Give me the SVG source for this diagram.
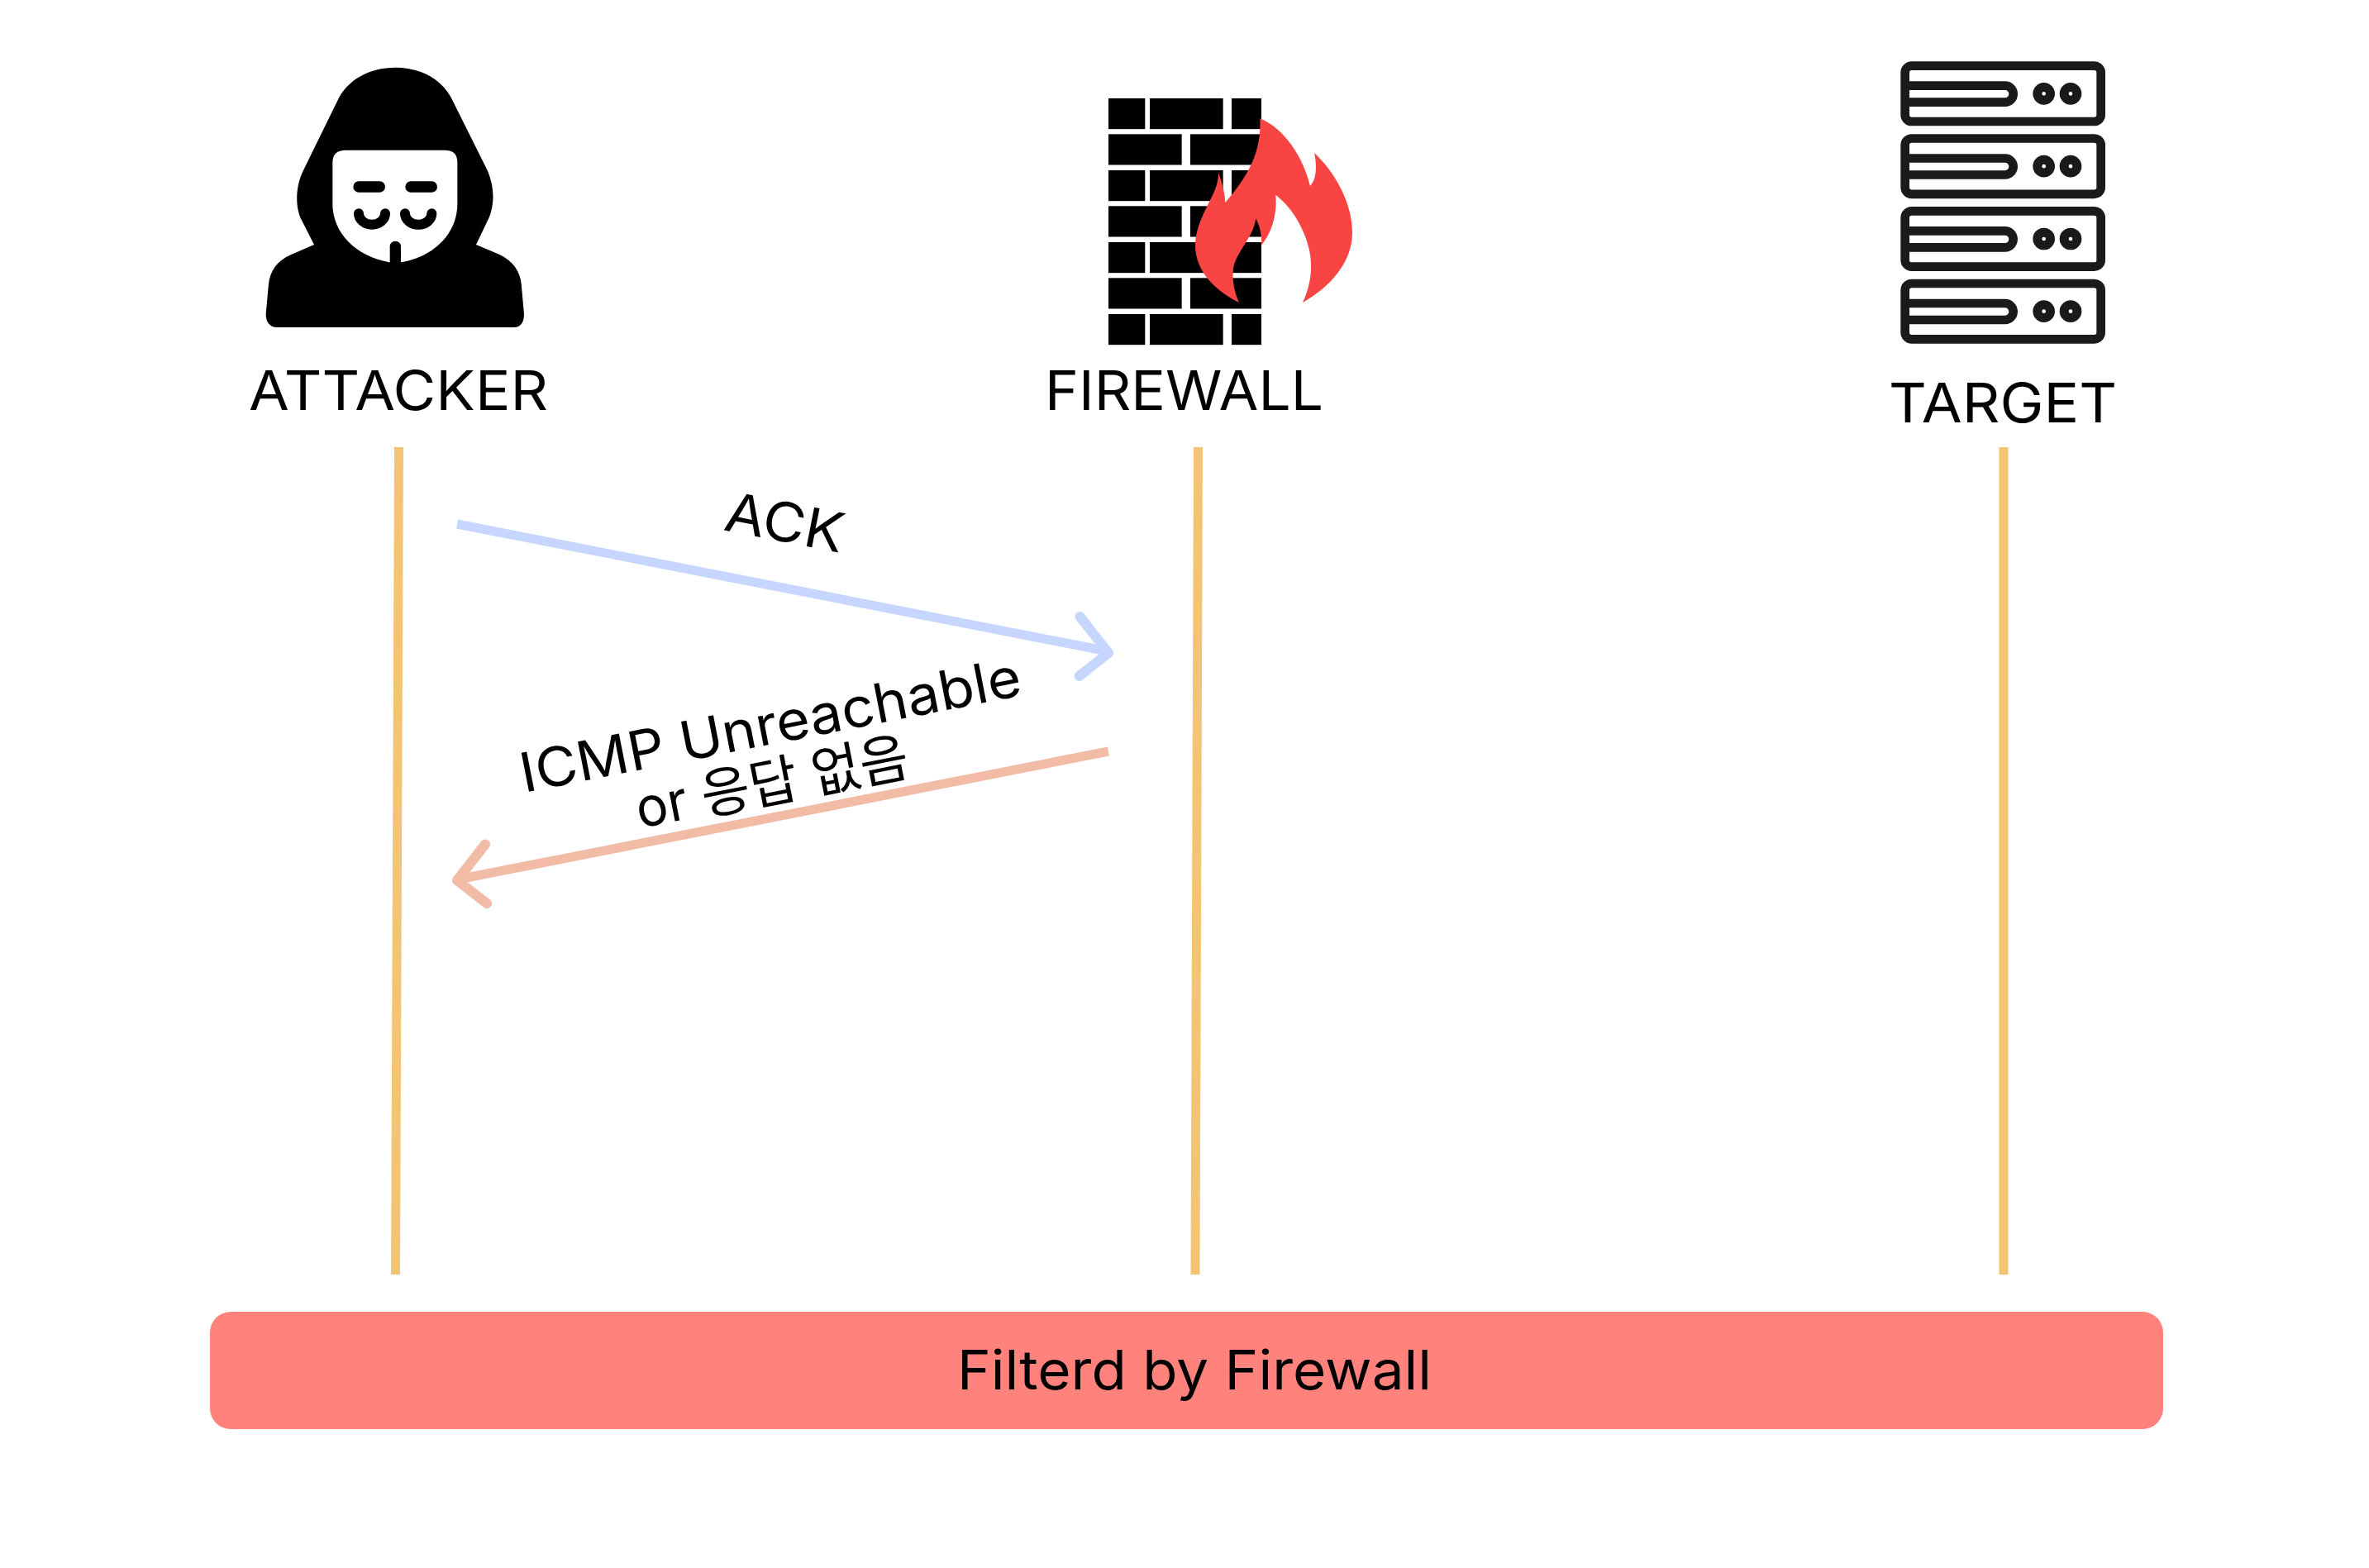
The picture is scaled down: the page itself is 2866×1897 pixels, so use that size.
<svg xmlns="http://www.w3.org/2000/svg" xmlns:xlink="http://www.w3.org/1999/xlink" width="2866" height="1897" viewBox="0 0 2866 1897">
  <style>
    text { font-family: "Inter", "Noto Sans CJK KR", sans-serif; font-size: 66px; font-weight: 400; fill: #000; }
    .life { stroke: #f4c475; stroke-width: 11; fill: none; }
    .ack { stroke: #c7d6fe; stroke-width: 11; fill: none; }
    .ackh { stroke: #c7d6fe; stroke-width: 12; fill: none; stroke-linecap: round; stroke-linejoin: round; }
    .rep { stroke: #f2bba5; stroke-width: 11; fill: none; }
    .reph { stroke: #f2bba5; stroke-width: 12; fill: none; stroke-linecap: round; stroke-linejoin: round; }
    .srv { fill: none; stroke: #1a1a1a; stroke-width: 32; }
    .led { fill: none; stroke: #1a1a1a; stroke-width: 33; }
  </style>
  <defs>
    <g id="unit">
      <rect class="srv" x="134" y="89" width="711" height="202" rx="24"/>
      <path class="srv" d="M134,161 H497 A30,30 0 0 1 497,221 H134"/>
      <circle class="led" cx="638" cy="190" r="23.5"/>
      <circle class="led" cx="735" cy="190" r="23.5"/>
    </g>
    <g id="row-a">
      <rect x="303" width="133" height="111.5"/><rect x="453" width="266" height="111.5"/><rect x="750" width="108" height="111.5"/>
    </g>
    <g id="row-b">
      <rect x="303" width="266" height="111.5"/><rect x="600" width="258" height="111.5"/>
    </g>
  </defs>
  <rect width="2866" height="1897" fill="#fff"/>

  <g id="connectors">
    <path class="life" d="M482.5,541 L478.5,1542"/>
    <path class="life" d="M1449.5,541 L1446,1542"/>
    <path class="life" d="M2424,541 V1542"/>
    <path class="ack" d="M553,634 L1338,787.5"/>
    <path class="ackh" d="M1306.5,746 L1341,790 L1305.5,818"/>
    <path class="rep" d="M1341,909 L556,1063.5"/>
    <path class="reph" d="M587,1021.5 L553,1065 L589,1093"/>
  </g>

  <g id="attacker">
    <g transform="translate(280 50) scale(0.33333)">
      <path d="M595,95 C500,95 420,140 385,215 L260,470 C235,520 230,590 250,640 L300,738 L215,775 C165,797 140,835 135,880 L125,990 C125,1020 140,1038 165,1038 L1025,1038 C1050,1038 1062,1020 1062,990 L1052,880 C1048,835 1020,797 975,775 L888,738 L935,640 C955,590 955,530 930,470 L805,220 C770,140 690,95 595,95 Z" fill="#000"/>
      <path d="M415,395 H775 Q820,395 820,440 V590 C820,700 730,790 595,805 C460,790 367,700 367,590 V440 Q367,395 415,395 Z" fill="#fff"/>
      <g fill="none" stroke="#000" stroke-linecap="round">
        <path d="M462,528 H538 M651,528 H727" stroke-width="40"/>
        <path d="M462,625 A48,40 0 0 0 558,625 M630,625 A48,40 0 0 0 727,625" stroke-width="36"/>
        <path d="M595,745 V815" stroke-width="40"/>
      </g>
    </g>
    <text x="301" y="496" textLength="362" lengthAdjust="spacingAndGlyphs">ATTACKER</text>
  </g>

  <g id="firewall">
    <g transform="translate(1240 90) scale(0.33333)">
      <use xlink:href="#row-a" href="#row-a" y="87"/>
      <use xlink:href="#row-b" href="#row-b" y="217"/>
      <use xlink:href="#row-a" href="#row-a" y="348"/>
      <use xlink:href="#row-b" href="#row-b" y="478"/>
      <use xlink:href="#row-a" href="#row-a" y="609"/>
      <use xlink:href="#row-b" href="#row-b" y="739"/>
      <use xlink:href="#row-a" href="#row-a" y="870"/>
      <path fill="#f94444" d="M853,160 C940,195 1010,300 1035,405 C1055,385 1062,340 1050,285 C1130,360 1188,470 1188,575 C1188,680 1110,770 1008,828 C1040,760 1045,690 1030,630 C1010,550 965,480 910,437 C915,500 900,570 858,620 C860,590 855,555 838,523 C830,590 770,640 757,700 C750,745 760,790 777,828 C700,790 618,720 618,620 C618,560 650,500 680,440 C695,410 702,385 702,357 C715,390 725,425 727,465 C800,380 860,290 853,160 Z"/>
    </g>
    <text x="1264" y="496" textLength="337" lengthAdjust="spacingAndGlyphs">FIREWALL</text>
  </g>

  <g id="target">
    <g transform="translate(2260 50) scale(0.33333)">
      <use xlink:href="#unit" href="#unit"/>
      <use xlink:href="#unit" href="#unit" y="263.5"/>
      <use xlink:href="#unit" href="#unit" y="527"/>
      <use xlink:href="#unit" href="#unit" y="790"/>
    </g>
    <text x="2285" y="511" textLength="276" lengthAdjust="spacingAndGlyphs">TARGET</text>
  </g>

  <g id="labels">
    <text transform="translate(874 641) rotate(11.07)" textLength="145" lengthAdjust="spacingAndGlyphs">ACK</text>
    <text transform="translate(634 959) rotate(-11.07)" textLength="616" lengthAdjust="spacingAndGlyphs">ICMP Unreachable</text>
    <text transform="translate(774 1002) rotate(-11.07)" textLength="335" lengthAdjust="spacingAndGlyphs">or 응답 없음</text>
  </g>

  <g id="filter-bar">
    <rect x="254" y="1587" width="2363" height="142" rx="25" fill="#ff837c"/>
    <text x="1158" y="1681" textLength="574" lengthAdjust="spacingAndGlyphs">Filterd by Firewall</text>
  </g>
</svg>
